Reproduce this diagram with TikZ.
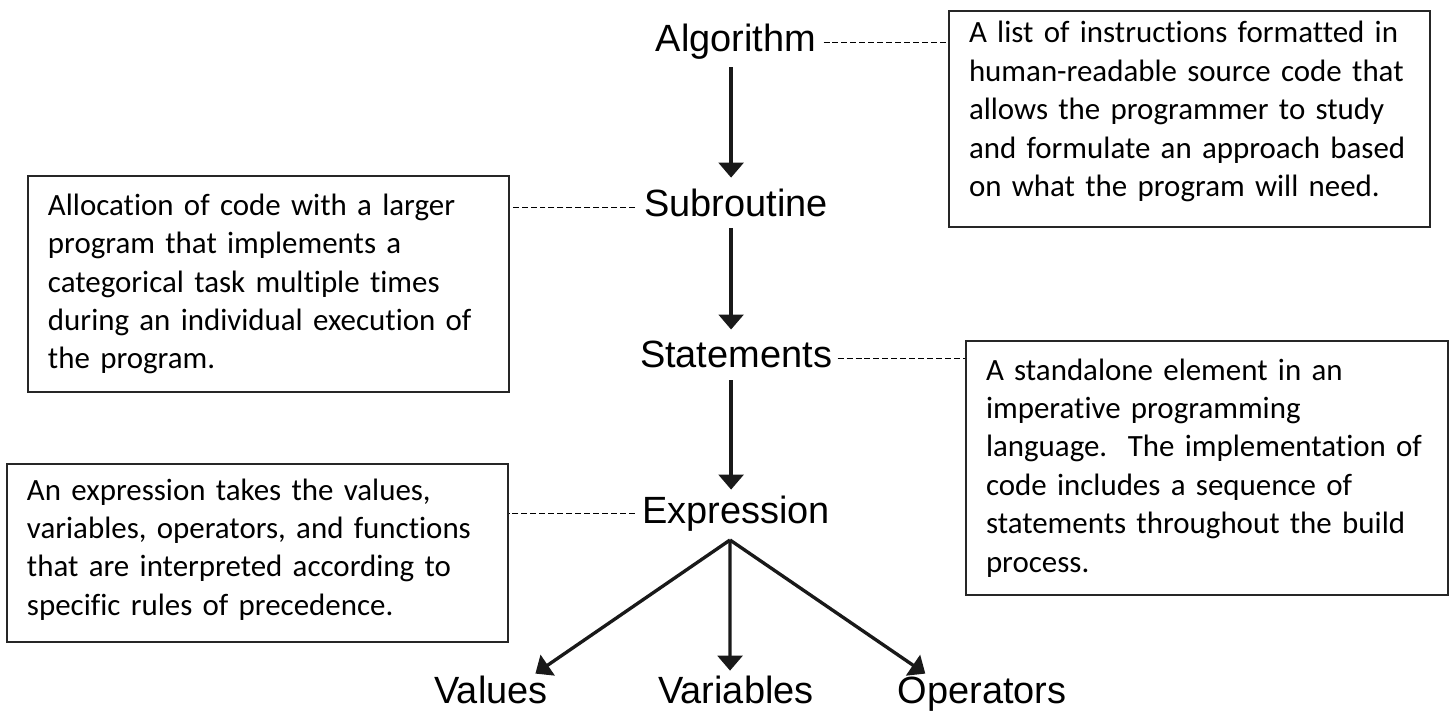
\documentclass[tikz,border=0pt]{standalone}
\usepackage{fontspec}
\setmainfont{Carlito}[Ligatures={TeX,NoCommon}]
\newfontfamily\labelfont{Liberation Sans}
\usetikzlibrary{arrows.meta,positioning,calc}

\begin{document}
\begin{tikzpicture}[x=0.02cm,y=-0.02cm,
  term/.style={font=\labelfont\fontsize{21.6}{25}\selectfont,inner sep=0pt,text height=15.4pt,text depth=4.6pt,anchor=base},
  note/.style={draw=black!85,line width=1.1pt,anchor=north west,align=left,inner xsep=11.4pt,inner ysep=0pt,font=\fontsize{17.6}{21.85}\selectfont},
  flow/.style={draw=black!90,line width=1.9pt,-{Triangle[width=14pt,length=8.5pt]}},
  link/.style={draw=black,line width=1.1pt,dash pattern=on 3.4pt off 1.7pt}]
\useasboundingbox (0,0) rectangle (1452,712);
  \node[term] (alg)  at (736,52)  {Algorithm};
  \node[term] (sub)  at (736,217) {Subroutine};
  \node[term] (stat) at (736,368) {Statements};
  \node[term] (expr) at (736,523) {Expression};
  \node[term] (vals) at (491,703) {Values};
  \node[term] (vars) at (736,703) {Variables};
  \node[term] (ops)  at (982,703) {Operators};
\coordinate (fork) at (730,540);
  \node[note,text width=250.9pt,minimum height=122.9pt] (algnote) at (948,10)
    {A list of instructions formatted in\\ human-readable source code that\\ allows the programmer to study\\ and formulate an approach based\\ on what the program will need.\rule[-11.4pt]{0pt}{0pt}};
  \node[note,text width=250.9pt,minimum height=122.9pt] (subnote) at (27,175)
    {Allocation of code with a larger\\ program that implements a\\ categorical task multiple times\\ during an individual execution of\\ the program.};
  \node[note,text width=251.5pt,minimum height=144.5pt] (statnote) at (965,340)
    {A standalone element in an\\ imperative programming\\ language.\ \ The implementation of\\ code includes a sequence of\\ statements throughout the build\\ process.};
  \node[note,text width=262.3pt,minimum height=101.3pt] (exprnote) at (6,463)
    {An expression takes the values,\\ variables, operators, and functions\\ that are interpreted according to\\ specific rules of precedence.\rule[-6.8pt]{0pt}{0pt}};
% main chain
\draw[flow,shorten <=4pt,shorten >=6.8pt] ([xshift=-2.8pt]alg.south) -- ([xshift=-2.8pt]sub.north);
\draw[flow,shorten <=1.7pt,shorten >=6.3pt] ([xshift=-2.8pt]sub.south) -- ([xshift=-2.8pt]stat.north);
\draw[flow,shorten <=2.3pt,shorten >=3.4pt] ([xshift=-2.8pt]stat.south) -- ([xshift=-2.8pt]expr.north);
\draw[flow,shorten >=2pt] (fork) -- ([xshift=-8.8pt]vals.north east);
\draw[flow,shorten >=2.8pt] (fork) -- ([xshift=-3.4pt]vars.north);
\draw[flow,shorten >=2pt] (fork) -- ([xshift=17.6pt]ops.north west);
% dashed leaders to the notes
\draw[link,shorten <=4pt] (alg.east) -- (alg.east -| algnote.west);
\draw[link,shorten <=5pt] (sub.west) -- (sub.west -| subnote.east);
\draw[link,shorten <=3pt] (stat.east) -- (stat.east -| statnote.west);
\draw[link,shorten <=4pt] (expr.west) -- (expr.west -| exprnote.east);
\end{tikzpicture}
\end{document}
